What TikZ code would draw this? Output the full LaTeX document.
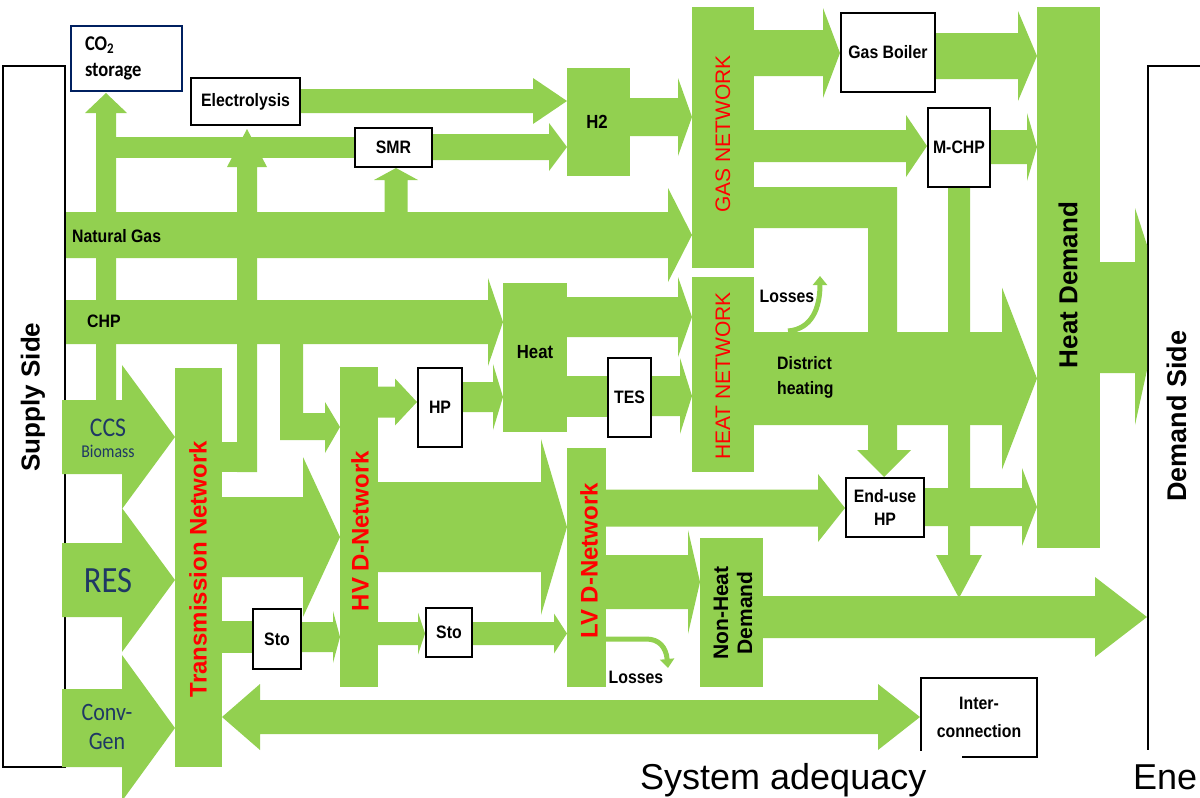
\documentclass[tikz,border=0pt]{standalone}
\usepackage{fontspec}
\setmainfont{Liberation Sans}
\newfontfamily\sqsans{Liberation Sans}[FakeStretch=0.88]
\newfontfamily\sqcal{Carlito}[FakeStretch=0.88]
\usetikzlibrary{arrows.meta}
\definecolor{flowgreen}{RGB}{146,208,80}
\definecolor{navytext}{RGB}{31,56,100}
\definecolor{co2edge}{RGB}{0,32,96}
\tikzset{
  flow/.style={fill=flowgreen},
  block/.style={fill=flowgreen, inner sep=0pt, outer sep=0pt},
  unit/.style={draw=black, fill=white, line width=2.5pt, inner sep=0pt, align=center, font=\sqsans\bfseries\fontsize{18}{21}\selectfont},
  gridlabel/.style={text=red, rotate=90, inner sep=0pt, font=\bfseries\fontsize{24}{26}\selectfont},
  netlabel/.style={text=red, rotate=90, inner sep=0pt, font=\fontsize{21}{23}\selectfont},
  flowlabel/.style={inner sep=0pt, font=\sqsans\bfseries\fontsize{18}{21}\selectfont},
  sourcelabel/.style={text=navytext, inner sep=0pt, align=center},
  sidelabel/.style={rotate=90, inner sep=0pt, font=\bfseries\fontsize{26}{28}\selectfont},
  lossline/.style={draw=flowgreen, line width=5pt, -{Triangle[length=9pt, width=14pt]}},
  edge/.style={draw=black, line width=2.5pt}
}
% right arrow: tail x, tip x, centre y, body half, head half, head length
\newcommand{\rarrow}[6]{%
  \fill[flow] (#1,#3-#4) -- (#2-#6,#3-#4) -- (#2-#6,#3-#5) -- (#2,#3)
    -- (#2-#6,#3+#5) -- (#2-#6,#3+#4) -- (#1,#3+#4) -- cycle;}
% up arrow: centre x, tail y, tip y, body half, head half, head length
\newcommand{\uarrow}[6]{%
  \fill[flow] (#1-#4,#2) -- (#1-#4,#3+#6) -- (#1-#5,#3+#6) -- (#1,#3)
    -- (#1+#5,#3+#6) -- (#1+#4,#3+#6) -- (#1+#4,#2) -- cycle;}
% down arrow: centre x, tail y, tip y, body half, head half, head length
\newcommand{\darrow}[6]{%
  \fill[flow] (#1-#4,#2) -- (#1-#4,#3-#6) -- (#1-#5,#3-#6) -- (#1,#3)
    -- (#1+#5,#3-#6) -- (#1+#4,#3-#6) -- (#1+#4,#2) -- cycle;}

\begin{document}
\begin{tikzpicture}[x=1pt, y=-1pt]
  \useasboundingbox (0,0) rectangle (1200,798);
  \draw[edge] (3,66) rectangle (65,767);
  \draw[edge] (1215,66) -- (1148,66) -- (1148,750);

  \node[block, minimum width=63pt, minimum height=108pt] (h2) at (598.5,122) {};
  \node[block, minimum width=62pt, minimum height=261pt] (gasnet) at (723,137.5) {};
  \node[block, minimum width=62pt, minimum height=195pt] (heatnet) at (723,374.5) {};
  \node[block, minimum width=64pt, minimum height=149pt] (heat) at (535,357.5) {};
  \node[block, minimum width=63pt, minimum height=541pt] (heatdem) at (1068.5,277.5) {};
  \node[block, minimum width=47pt, minimum height=399pt] (trans) at (198.5,567.5) {};
  \node[block, minimum width=38pt, minimum height=320pt] (hv) at (359,527) {};
  \node[block, minimum width=39pt, minimum height=239pt] (lv) at (586.5,567.5) {};
  \node[block, minimum width=63pt, minimum height=149pt] (nonheat) at (731.5,612.5) {};

  \rarrow{62}{175}{437}{37}{72}{53}
  \rarrow{62}{175}{580}{37}{72}{53}
  \rarrow{62}{175}{728}{39}{73}{53}
  \rarrow{66}{692}{235}{23}{47}{24}
  \rarrow{66}{503}{322}{22}{44}{15}
  \uarrow{106}{400}{93}{10}{21}{20}
  \fill[flow] (106,137) rectangle (354,158);
  \fill[flow] (222,442) rectangle (257,472);
  \uarrow{247}{472}{129}{10}{20}{38}
  \uarrow{396}{212}{168}{11.5}{22}{12}
  \rarrow{301}{567}{101}{12}{23}{34}
  \rarrow{433}{567}{147}{13}{24}{18}
  \rarrow{630}{692}{117}{19}{39}{14}
  \rarrow{754}{840}{53}{23}{45}{17}
  \rarrow{936}{1037}{56}{23}{45}{19}
  \rarrow{754}{927}{146}{16}{31}{21}
  \rarrow{991}{1037}{147}{17}{34}{10}
  \darrow{959}{188}{598}{11}{23}{43}
  \fill[flow] (754,187) -- (897,187) -- (897,450) -- (911,450) -- (884,477)
    -- (857,450) -- (868,450) -- (868,228) -- (754,228) -- cycle;
  \fill[flow] (280,344) -- (303,344) -- (303,413) -- (325,413) -- (325,402)
    -- (340,427) -- (325,453) -- (325,440) -- (280,440) -- cycle;
  \rarrow{567}{692}{317}{20}{40}{14}
  \fill[flow] (567,376) rectangle (607,417);
  \rarrow{652}{692}{396}{20}{38}{12}
  \rarrow{378}{417}{402}{15.5}{23.5}{22}
  \rarrow{463}{503}{397}{15}{33}{10}
  \rarrow{754}{1037}{378.5}{46.5}{91}{35}
  \draw[lossline] (788,331) .. controls (812,329) and (820,308) .. (820,276);
  \rarrow{222}{340}{537}{40}{80}{37}
  \rarrow{378}{567}{527}{45}{88}{26}
  \fill[flow] (222,621) rectangle (252,653);
  \rarrow{302}{340}{637}{15}{26}{7}
  \rarrow{378}{425}{633.5}{11.5}{21}{7}
  \rarrow{473}{567}{633.5}{11.5}{20}{13}
  \draw[lossline] (604,639) -- (646,639) .. controls (659,639) and (666,647) .. (668,668);
  \rarrow{606}{845}{508}{18.5}{34}{27}
  \rarrow{925}{1037}{507}{19}{39}{15}
  \rarrow{606}{700}{582}{27}{52}{12}
  \rarrow{763}{1147}{617}{21}{40}{52}
  \fill[flow] (1100,262) -- (1135,262) -- (1135,208) -- (1147,245) -- (1147,370)
    -- (1135,425) -- (1135,373) -- (1100,373) -- cycle;
  \fill[flow] (222,717) -- (260,684) -- (260,700) -- (878,700) -- (878,684)
    -- (920,717) -- (878,750) -- (878,734) -- (260,734) -- (260,750) -- cycle;

  \node[unit, draw=co2edge, minimum width=111pt, minimum height=65pt, text width=83pt, align=left,
    font=\sqcal\bfseries\fontsize{21}{26}\selectfont] (co2) at (126.5,58.5) {CO\textsubscript{2}\\storage};
  \node[unit, minimum width=109pt, minimum height=47pt] (elec) at (245.5,101.5) {Electrolysis};
  \node[unit, minimum width=77pt, minimum height=39pt] (smr) at (393.5,147.5) {SMR};
  \node[unit, minimum width=94pt, minimum height=79pt] (boiler) at (888,52.5) {Gas Boiler};
  \node[unit, minimum width=62pt, minimum height=79pt] (mchp) at (959,147.5) {M-CHP};
  \node[unit, minimum width=44pt, minimum height=79pt] (hp) at (440,407.5) {HP};
  \node[unit, minimum width=43pt, minimum height=79pt] (tes) at (629.5,397.5) {TES};
  \node[unit, minimum width=78pt, minimum height=59pt, font=\sqsans\bfseries\fontsize{18}{23}\selectfont] (enduse) at (885,507.5) {End-use\\HP};
  \node[unit, minimum width=48pt, minimum height=60pt] (stoa) at (277,639) {Sto};
  \node[unit, minimum width=46pt, minimum height=49pt] (stob) at (449,632.5) {Sto};
  \node[unit, minimum width=116pt, minimum height=79pt, font=\sqsans\bfseries\fontsize{18}{28}\selectfont] (inter) at (979,717.5) {Inter-\\connection};

  \node[flowlabel, font=\sqsans\bfseries\fontsize{19}{21}\selectfont] (h2lbl) at (597,122) {H2};
  \node[flowlabel, font=\sqsans\bfseries\fontsize{19}{21}\selectfont] (heatlbl) at (535,352) {Heat};
  \node[flowlabel, anchor=west] (nglbl) at (72,236) {Natural Gas};
  \node[flowlabel, anchor=west] (chplbl) at (87,321) {CHP};
  \node[flowlabel, anchor=west, align=left, font=\sqsans\bfseries\fontsize{18}{25}\selectfont] (dhlbl) at (777,377) {District\\heating};
  \node[flowlabel] (losslbla) at (787,296) {Losses};
  \node[flowlabel] (losslblb) at (636,677) {Losses};
  \node[netlabel] (gaslbl) at (723,134) {GAS NETWORK};
  \node[netlabel] (heatnetlbl) at (723,376) {HEAT NETWORK};
  \node[gridlabel] (translbl) at (198,569) {Transmission Network};
  \node[gridlabel] (hvlbl) at (360,531) {HV D-Network};
  \node[gridlabel] (lvlbl) at (589,561) {LV D-Network};
  \node[sidelabel] (heatdemlbl) at (1068,285) {Heat Demand};
  \node[sidelabel, align=center, font=\bfseries\fontsize{21}{24}\selectfont] (nonheatlbl) at (733,613) {Non-Heat\\Demand};
  \node[sidelabel] (supplylbl) at (33,397) {Supply Side};
  \node[sidelabel, font=\bfseries\fontsize{27}{29}\selectfont] (demandlbl) at (1177,416) {Demand Side};
  \node[sourcelabel, font=\sqcal\fontsize{27}{29}\selectfont] (ccslbl) at (108,428) {CCS};
  \node[sourcelabel, font=\sqcal\fontsize{18}{20}\selectfont] (biolbl) at (108,451) {Biomass};
  \node[sourcelabel, font=\sqcal\fontsize{37}{40}\selectfont] (reslbl) at (108,581) {RES};
  \node[sourcelabel, font=\sqcal\fontsize{25}{29}\selectfont] (convlbl) at (107,727) {Conv-\\Gen};

  \fill[white] (624,751) rectangle (962,800);
  \node[anchor=base west, inner sep=0pt, font=\fontsize{36}{40}\selectfont] (adequacy) at (640,789) {System adequacy};
  \node[anchor=base west, inner sep=0pt, font=\fontsize{36}{40}\selectfont] (energy) at (1133,789) {Ene};
\end{tikzpicture}
\end{document}
